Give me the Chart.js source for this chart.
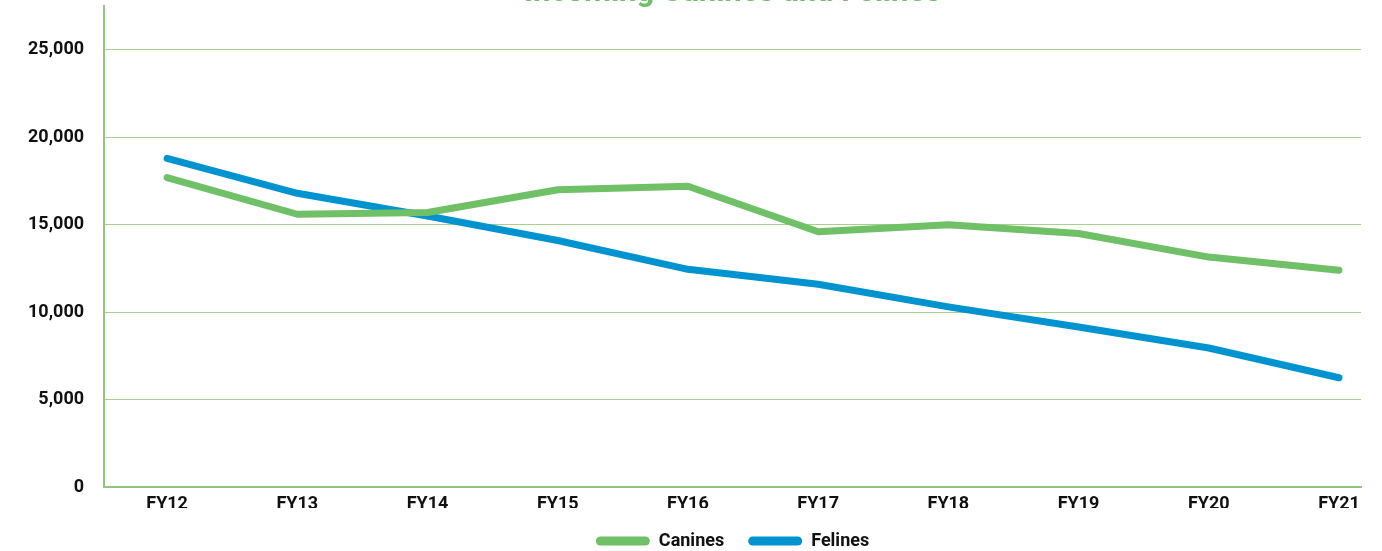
<!DOCTYPE html>
<html>
<head>
<meta charset="utf-8">
<script src="https://cdn.jsdelivr.net/npm/chart.js@4/dist/chart.umd.min.js"></script>
<style>
  html, body { margin: 0; padding: 0; background: #fff; }
  #wrap { width: 1382px; height: 551px; position: relative; }
</style>
</head>
<body>
<div id="wrap"><canvas id="lineChart"></canvas></div>
<script>
// values
const years = ['FY12', 'FY13', 'FY14', 'FY15', 'FY16', 'FY17', 'FY18', 'FY19', 'FY20', 'FY21'];
const canines = [17700, 15600, 15700, 17000, 17200, 14600, 15000, 14500, 13150, 12400];
const felines = [18800, 16800, 15500, 14100, 12450, 11600, 10300, 9150, 7950, 6250];
const yTicks = [0, 5000, 10000, 15000, 20000, 25000];

const green = '#6fc066';
const blue = '#0093d0';
const gridGreen = '#a8d08d';
const font = 'Roboto';

const toPoints = (arr) => arr.map((v, i) => ({ x: i, y: v }));

const ctx = document.getElementById('lineChart').getContext('2d');

new Chart(ctx, {
    type: 'line',
    data: {
        datasets: [
            {
                label: 'Canines',
                data: toPoints(canines),
                borderColor: green,
                backgroundColor: green,
                borderWidth: 7,
                borderCapStyle: 'round',
                borderJoinStyle: 'round',
                pointRadius: 0,
                tension: 0,
            },
            {
                label: 'Felines',
                data: toPoints(felines),
                borderColor: blue,
                backgroundColor: blue,
                borderWidth: 7,
                borderCapStyle: 'round',
                borderJoinStyle: 'round',
                pointRadius: 0,
                tension: 0,
            },
        ],
    },
    options: {
        responsive: true,
        maintainAspectRatio: false,
        animation: false,
        layout: {
            padding: { left: 28, right: 21, top: 0, bottom: -9 },
        },
        scales: {
            x: {
                type: 'linear',
                min: -0.484,
                max: 9.169,
                afterBuildTicks: (scale) => {
                    scale.ticks = years.map((_, i) => ({ value: i }));
                },
                afterFit: (scale) => {
                    scale.height = 21;
                },
                grid: { display: false, drawTicks: false },
                border: { display: true, color: '#93c67d', width: 2 },
                ticks: {
                    autoSkip: false,
                    maxRotation: 0,
                    padding: 7,
                    color: '#111',
                    font: { family: font, size: 18, weight: 'bold' },
                    callback: (v) => years[v] ?? '',
                },
            },
            y: {
                min: 0,
                max: 27500,
                afterBuildTicks: (scale) => {
                    scale.ticks = yTicks.map((v) => ({ value: v }));
                },
                grid: {
                    color: gridGreen,
                    lineWidth: 1,
                    drawTicks: true,
                    tickLength: 20,
                    tickColor: 'rgba(0,0,0,0)',
                },
                border: { display: true, color: '#93c67d', width: 2 },
                ticks: {
                    padding: 0,
                    color: '#111',
                    font: { family: font, size: 18, weight: 'bold', lineHeight: 0.5 },
                    callback: (v) => v.toLocaleString('en-US'),
                },
            },
        },
        plugins: {
            title: {
                display: true,
                text: 'Incoming Canines and Felines',
                color: green,
                fullSize: false,
                font: { family: font, size: 31, weight: 'bold' },
                padding: { top: -25, bottom: -6 },
            },
            legend: {
                position: 'bottom',
                fullSize: false,
                labels: {
                    boxWidth: 54,
                    boxHeight: 9,
                    useBorderRadius: true,
                    borderRadius: 4.5,
                    padding: 24,
                    color: '#111',
                    font: { family: font, size: 18, weight: 'bold' },
                    generateLabels: (chart) =>
                        Chart.defaults.plugins.legend.labels.generateLabels(chart)
                            .map((item) => ({ ...item, lineWidth: 0 })),
                },
            },
            tooltip: { enabled: false },
        },
    },
});
</script>
</body>
</html>
